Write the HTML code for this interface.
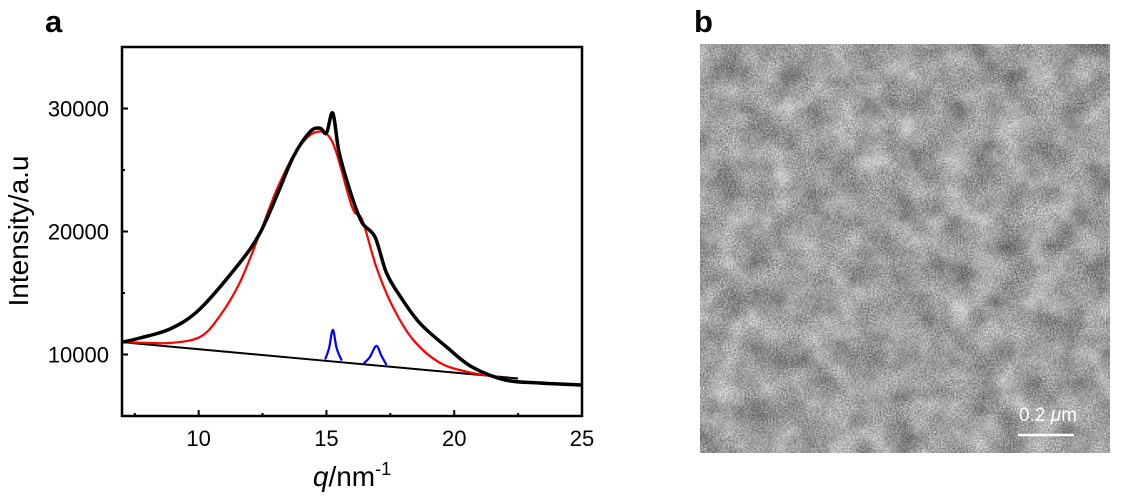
<!DOCTYPE html>
<html><head><meta charset="utf-8"><style>
body{margin:0;background:#fff;width:1142px;height:492px;overflow:hidden;font-family:"Liberation Sans",sans-serif}
</style></head><body>
<svg width="1142" height="492">
<defs>
<filter id="tem" x="0" y="0" width="100%" height="100%" color-interpolation-filters="sRGB">
<feTurbulence type="fractalNoise" baseFrequency="0.6" numOctaves="2" seed="3" result="n1"/>
<feTurbulence type="fractalNoise" baseFrequency="0.035" numOctaves="3" seed="7" result="n2"/>
<feComposite in="n1" in2="n2" operator="arithmetic" k2="0.4" k3="0.3" k4="0" result="c"/>
<feColorMatrix in="c" type="matrix" values="1 0 0 0 0.12  1 0 0 0 0.12  1 0 0 0 0.12  0 0 0 0 1"/>
</filter>
</defs>
<text x="45" y="32" font-size="31" font-weight="bold">a</text>
<text x="694" y="32" font-size="31" font-weight="bold">b</text>
<g id="chart"></g>
<g>
<rect x="700" y="44" width="410" height="409" fill="#808080"/>
<rect x="700" y="44" width="410" height="409" filter="url(#tem)"/>
<text x="1048" y="421" font-size="19" fill="#fff" text-anchor="middle">0.2 <tspan font-style="italic">μ</tspan>m</text>
<line x1="1018" y1="435" x2="1074" y2="435" stroke="#fff" stroke-width="2.5"/>
</g>
</svg>
<script>
const xTicks=[10,15,20,25];
const yTicks=[10000,20000,30000];
const blackQ=[7,7.7,8.9,10.05,11.6,12.4,13.1,13.7,14.35,14.75,15.0,15.25,15.5,16.0,16.4,16.9,17.35,17.9,18.65,19.7,20.7,22.0,23.35,25];
const blackI=[11000,11340,12100,13700,17440,19880,23130,26060,28090,28400,28000,29630,26400,22800,20700,19550,16630,14680,12560,10610,8980,7930,7680,7520];
const redQ=[7,8,8.9,10.05,10.8,11.6,12.4,13.1,13.85,14.6,15.25,16.0,16.4,16.95,17.6,18.4,19.45,20.7,21.8];
const redI=[11000,10950,10940,11420,13050,15810,19880,23620,26630,28090,27200,22000,20940,17110,13860,11180,9310,8500,8170];
const blue1Q=[14.95,15.1,15.25,15.4,15.6];
const blue1I=[9600,10500,12000,10500,9500];
const blue2Q=[16.45,16.7,16.95,17.15,17.35];
const blue2I=[9250,9800,10700,9900,9150];
const baseQ=[7,22.5];
const baseI=[11000,8050];
const X0=122,X1=582,Y0=416,Y1=47,xmin=7,xmax=25,ymin=5000,ymax=35000;
const sx=v=>X0+(v-xmin)/(xmax-xmin)*(X1-X0);
const sy=v=>Y0-(v-ymin)/(ymax-ymin)*(Y0-Y1);
const NS="http://www.w3.org/2000/svg";
const g=document.getElementById('chart');
function mk(t,a){const e=document.createElementNS(NS,t);for(const k in a)e.setAttribute(k,a[k]);g.appendChild(e);return e;}
function smooth(qs,is){
 const P=qs.map((q,i)=>[sx(q),sy(is[i])]);
 let d='M'+P[0][0].toFixed(1)+','+P[0][1].toFixed(1);
 for(let i=0;i<P.length-1;i++){
  const p0=P[i-1]||P[i],p1=P[i],p2=P[i+1],p3=P[i+2]||P[i+1];
  const c1=[p1[0]+(p2[0]-p0[0])/6,p1[1]+(p2[1]-p0[1])/6];
  const c2=[p2[0]-(p3[0]-p1[0])/6,p2[1]-(p3[1]-p1[1])/6];
  d+='C'+c1.map(v=>v.toFixed(1))+' '+c2.map(v=>v.toFixed(1))+' '+p2.map(v=>v.toFixed(1));
 }
 return d;
}
function line(qs,is,col,w,name){
 const p=mk('path',{d:smooth(qs,is),fill:'none',stroke:col,'stroke-width':w,'stroke-linejoin':'round'});
 
 
}
line(baseQ,baseI,'#000',2,'baseline');
line(redQ,redI,'#ff0000',2.2,'fit-curve-red');
line(blue1Q,blue1I,'#0000ff',2.2,'peak-blue-1');
line(blue2Q,blue2I,'#0000ff',2.2,'peak-blue-2');
line(blackQ,blackI,'#000',3.5,'measured-curve');
const f=mk('rect',{x:X0,y:Y1,width:X1-X0,height:Y0-Y1,fill:'none',stroke:'#000','stroke-width':2.5});


for(let v=7.5;v<=25;v+=2.5){const big=xTicks.includes(v);mk('line',{x1:sx(v),x2:sx(v),y1:Y0,y2:Y0-(big?6:3),stroke:'#000','stroke-width':2});}
for(let v=10000;v<35000;v+=5000){const big=yTicks.includes(v);mk('line',{x1:X0,x2:X0+(big?6:3),y1:sy(v),y2:sy(v),stroke:'#000','stroke-width':2});}
xTicks.forEach(v=>{const t=mk('text',{x:sx(v),y:Y0+30,'font-size':22,'text-anchor':'middle'});t.textContent=v;
 
 });
yTicks.forEach(v=>{const t=mk('text',{x:X0-13,y:sy(v)+8,'font-size':22,'text-anchor':'end'});t.textContent=v;
 
 });
const xt=mk('text',{x:352,y:486,'font-size':28,'text-anchor':'middle'});
xt.innerHTML='<tspan font-style="italic">q</tspan>/nm<tspan dy="-11" font-size="18">-1</tspan>';


const yt=mk('text',{x:0,y:0,'font-size':28,'text-anchor':'middle',transform:'translate(28,231) rotate(-90)'});
yt.textContent='Intensity/a.u';


</script>
</body></html>
